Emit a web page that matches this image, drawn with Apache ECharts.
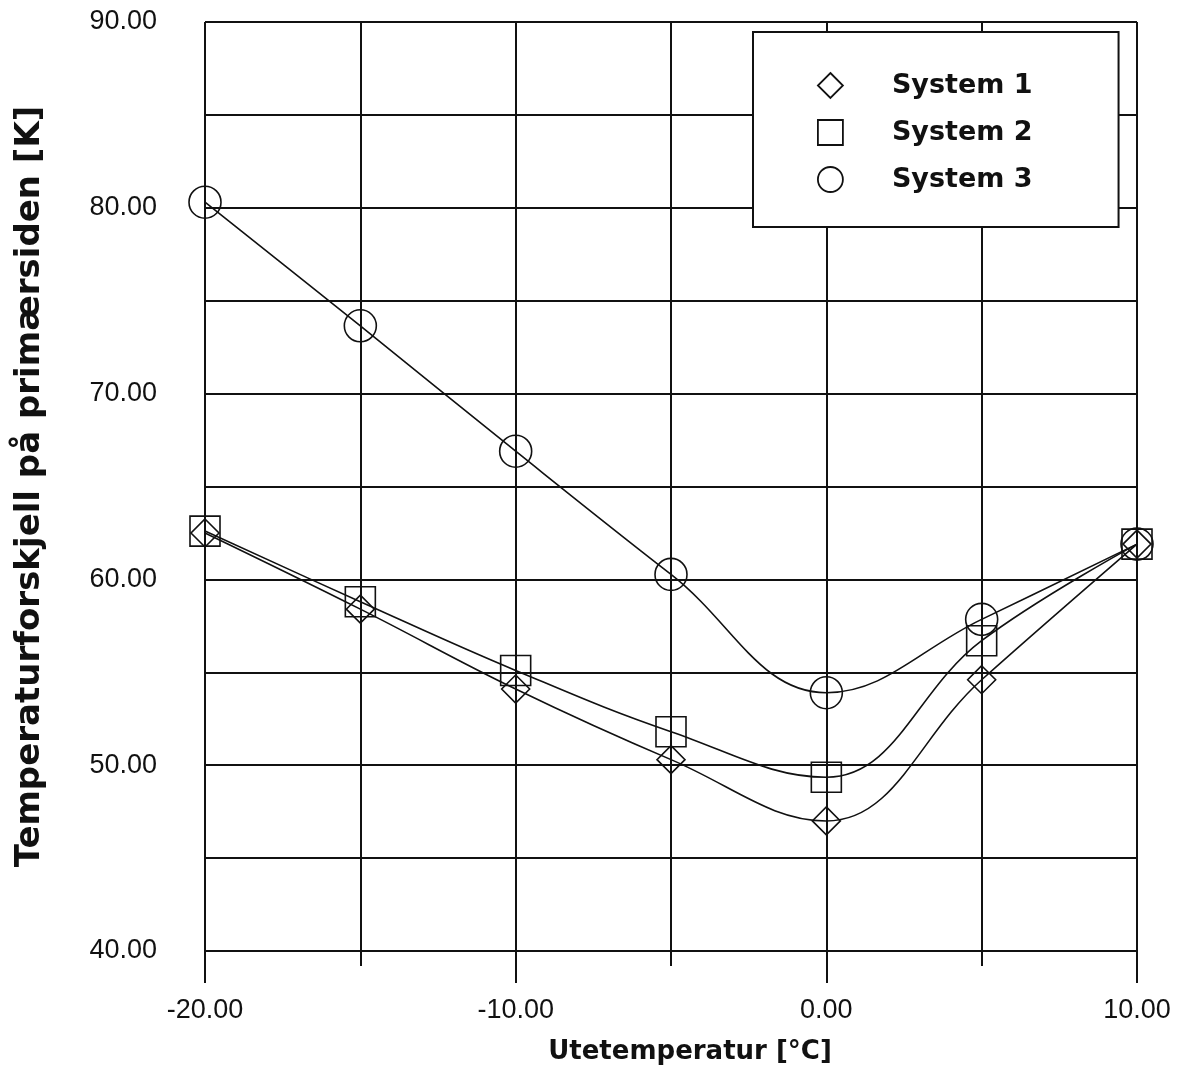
<!DOCTYPE html>
<html>
<head>
<meta charset="utf-8">
<script src="https://cdn.jsdelivr.net/npm/echarts@6/dist/echarts.min.js"></script>
<style>
html,body{margin:0;padding:0;background:#fff;}
#chart{width:1181px;height:1072px;}
</style>
</head>
<body>
<div id="chart"></div>
<script>
var xValues = [-20, -15, -10, -5, 0, 5, 10];
var system1 = [62.5, 58.4, 54.1, 50.3, 47.0, 54.6, 61.9];
var system2 = [62.6, 58.8, 55.1, 51.8, 49.35, 56.7, 61.9];
var system3 = [80.3, 73.65, 66.9, 60.27, 53.9, 57.85, 61.9];
var seriesNames = ['System 1', 'System 2', 'System 3'];
var xTitle = 'Utetemperatur [°C]';
var yTitle = 'Temperaturforskjell på primærsiden [K]';

function pairs(vals) {
  return xValues.map(function (x, i) { return [x, vals[i]]; });
}

var chart = echarts.init(document.getElementById('chart'), null, {renderer: 'canvas'});
var lineCol = '#111';
var clear = 'rgba(255,255,255,0)';
chart.setOption({
  backgroundColor: '#fff',
  animation: false,
  grid: {left: 205, right: 44, top: 22, bottom: 121, containLabel: false},
  legend: {
    orient: 'vertical',
    left: 753,
    top: 32,
    padding: [40, 86, 34, 64],
    itemWidth: 25,
    itemHeight: 25,
    itemGap: 20,
    backgroundColor: '#fff',
    borderColor: '#111',
    borderWidth: 2,
    borderRadius: 0,
    selectedMode: false,
    textStyle: {fontFamily: 'DejaVu Sans', fontWeight: 'bold', fontSize: 27, color: '#111', padding: [0, 0, 0, 44]},
    itemStyle: {color: clear, borderColor: '#111', borderWidth: 1.8},
    data: [
      {name: seriesNames[0], icon: 'diamond'},
      {name: seriesNames[1], icon: 'rect'},
      {name: seriesNames[2], icon: 'circle'}
    ]
  },
  xAxis: {
    type: 'value',
    min: -20, max: 10, interval: 10,
    name: xTitle,
    nameLocation: 'middle',
    nameGap: 88,
    nameTextStyle: {fontFamily: 'DejaVu Sans', fontWeight: 'bold', fontSize: 26, color: '#111', padding: [0, 0, 0, 38]},
    axisLine: {show: true, onZero: false, lineStyle: {color: lineCol, width: 2}},
    axisTick: {show: true, length: 32, lineStyle: {color: lineCol, width: 2}},
    minorTick: {show: true, splitNumber: 2, length: 15, lineStyle: {color: lineCol, width: 2}},
    splitLine: {show: true, lineStyle: {color: lineCol, width: 2}},
    minorSplitLine: {show: true, lineStyle: {color: lineCol, width: 2}},
    axisLabel: {
      margin: 46,
      fontFamily: 'Liberation Sans', fontSize: 27, color: '#111',
      formatter: function (v) { return v.toFixed(2); }
    }
  },
  yAxis: {
    type: 'value',
    min: 40, max: 90, interval: 10,
    name: yTitle,
    nameLocation: 'middle',
    nameGap: 158,
    nameRotate: 90,
    nameTextStyle: {fontFamily: 'DejaVu Sans', fontWeight: 'bold', fontSize: 34, color: '#111'},
    axisLine: {show: true, lineStyle: {color: lineCol, width: 2}},
    axisTick: {show: true, length: 32, lineStyle: {color: lineCol, width: 2}},
    minorTick: {show: true, splitNumber: 2, length: 16, lineStyle: {color: lineCol, width: 2}},
    splitLine: {show: true, lineStyle: {color: lineCol, width: 2}},
    minorSplitLine: {show: true, lineStyle: {color: lineCol, width: 2}},
    axisLabel: {
      margin: 48,
      fontFamily: 'Liberation Sans', fontSize: 27, color: '#111',
      formatter: function (v) { return v.toFixed(2); }
    }
  },
  series: [
    {
      name: seriesNames[0], type: 'line', data: pairs(system1), smooth: 0.4,
      symbol: 'diamond', symbolSize: 28,
      lineStyle: {color: '#111', width: 1.6},
      itemStyle: {color: clear, borderColor: '#111', borderWidth: 1.6}
    },
    {
      name: seriesNames[1], type: 'line', data: pairs(system2), smooth: 0.4,
      symbol: 'rect', symbolSize: 30,
      lineStyle: {color: '#111', width: 1.6},
      itemStyle: {color: clear, borderColor: '#111', borderWidth: 1.6}
    },
    {
      name: seriesNames[2], type: 'line', data: pairs(system3), smooth: 0.4,
      symbol: 'circle', symbolSize: 32,
      lineStyle: {color: '#111', width: 1.6},
      itemStyle: {color: clear, borderColor: '#111', borderWidth: 1.6}
    }
  ]
});
</script>
</body>
</html>
